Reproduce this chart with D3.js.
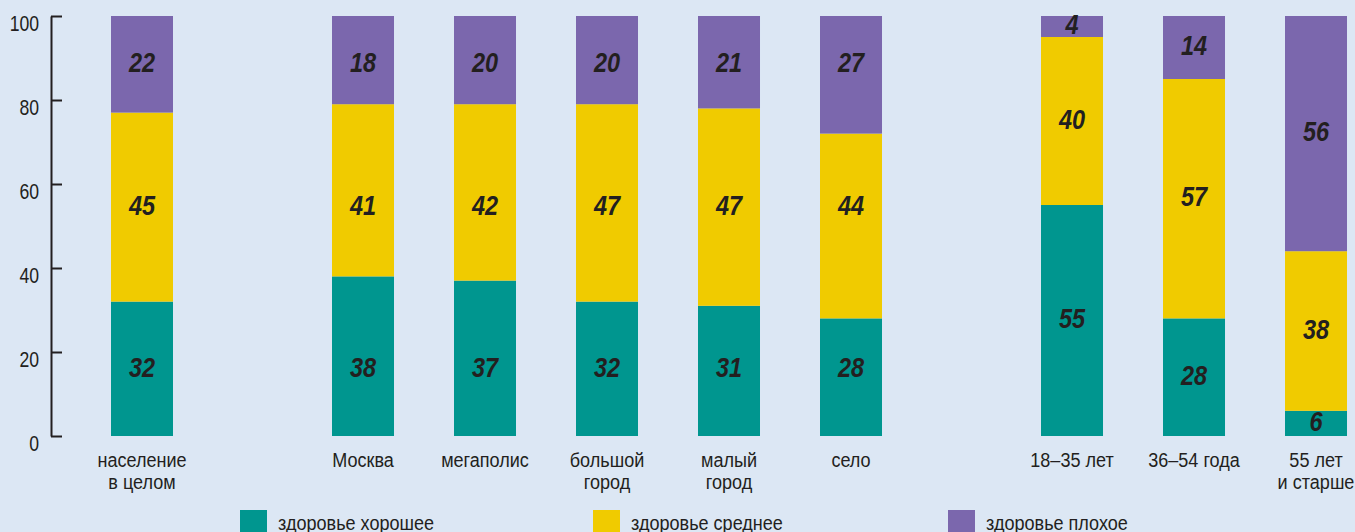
<!DOCTYPE html>
<html>
<head>
<meta charset="utf-8">
<script src="https://cdn.jsdelivr.net/npm/d3@7"></script>
<style>
html, body { margin: 0; padding: 0; background: #dce7f4; }
svg { display: block; }
text { font-family: "Liberation Sans", Arial, sans-serif; fill: #231f20; }
</style>
</head>
<body>
<svg id="chart" width="1355" height="532"></svg>
<script>
// ---- data ----
const categories = [
  ["население", "в целом"],
  ["Москва"], ["мегаполис"], ["большой", "город"], ["малый", "город"], ["село"],
  ["18–35 лет"], ["36–54 года"], ["55 лет", "и старше"]
];
const groupIndex = [0, 1, 1, 1, 1, 1, 2, 2, 2];
const good    = [32, 38, 37, 32, 31, 28, 55, 28, 6];
const average = [45, 41, 42, 47, 47, 44, 40, 57, 38];
const bad     = [22, 18, 20, 20, 21, 27, 4, 14, 56];
const seriesNames = ["здоровье хорошее", "здоровье среднее", "здоровье плохое"];
const seriesColors = ["#00968f", "#f0cb00", "#7b67ad"];
const yTicks = [0, 20, 40, 60, 80, 100];

// ---- layout ----
const svg = d3.select("#chart");
const groupGap = 0.8115;
const x = d3.scaleLinear().domain([0, 1]).range([142, 264]);
const y = d3.scaleLinear().domain([0, 100]).range([436, 16]);
const barW = 62;
const condense = 0.86;

const series = [good, average, bad];
const slot = (i) => i + groupIndex[i] * groupGap;

// segment extents for each bar (last segment fills to the top of the scale)
const segs = categories.map((c, i) => {
  let base = 0;
  return series.map((s, k) => {
    const top = (k === series.length - 1) ? 100 : base + s[i];
    const r = { b: base, t: top };
    base += s[i];
    return r;
  });
});

// axis
const axis = d3.axisLeft(y).tickValues(yTicks).tickSize(-11).tickPadding(0).tickSizeOuter(0);
const ag = svg.append("g").attr("transform", "translate(51,0)").call(axis);
ag.attr("font-family", null).attr("font-size", null);
ag.select(".domain").attr("stroke", "#231f20").attr("stroke-width", 2);
ag.selectAll(".tick line").attr("stroke", "#231f20").attr("stroke-width", 2);
ag.selectAll(".tick text")
  .attr("font-size", 22)
  .attr("x", 0)
  .attr("dy", null)
  .attr("y", 0)
  .attr("text-anchor", "end")
  .attr("dominant-baseline", "central")
  .attr("transform", "translate(-12,7) scale(0.8,1)")
  .attr("fill", "#231f20");

// bars
categories.forEach((cat, i) => {
  const cx = x(slot(i));
  // labels in the first two groups line up with the first bar's segments
  const labelRef = groupIndex[i] === 2 ? i : 0;
  series.forEach((s, k) => {
    const sg = segs[i][k];
    svg.append("rect")
      .attr("x", cx - barW / 2)
      .attr("width", barW)
      .attr("y", y(sg.t))
      .attr("height", y(sg.b) - y(sg.t))
      .attr("fill", seriesColors[k]);
    const ls = segs[labelRef][k];
    const ly = (y(ls.b) + y(ls.t)) / 2 - 2;
    svg.append("g")
      .attr("transform", `translate(${cx},${ly}) scale(0.87,1)`)
      .append("text")
      .attr("x", 0).attr("y", 0)
      .attr("dy", "0.36em")
      .attr("text-anchor", "middle")
      .attr("font-size", 27)
      .attr("font-weight", "bold")
      .attr("font-style", "italic")
      .text(s[i]);
  });
  const t = svg.append("g")
    .attr("transform", `translate(${cx},467) scale(${condense},1)`)
    .append("text")
    .attr("text-anchor", "middle")
    .attr("font-size", 21);
  cat.forEach((line, j) => {
    t.append("tspan").attr("x", 0).attr("y", j * 22).text(line);
  });
});

// legend
const legendX = [240, 593, 948];
seriesNames.forEach((name, k) => {
  svg.append("rect")
    .attr("x", legendX[k]).attr("y", 510)
    .attr("width", 27).attr("height", 27)
    .attr("fill", seriesColors[k]);
  svg.append("g")
    .attr("transform", `translate(${legendX[k] + 38},530) scale(${condense},1)`)
    .append("text")
    .attr("font-size", 21)
    .text(name);
});
</script>
</body>
</html>
